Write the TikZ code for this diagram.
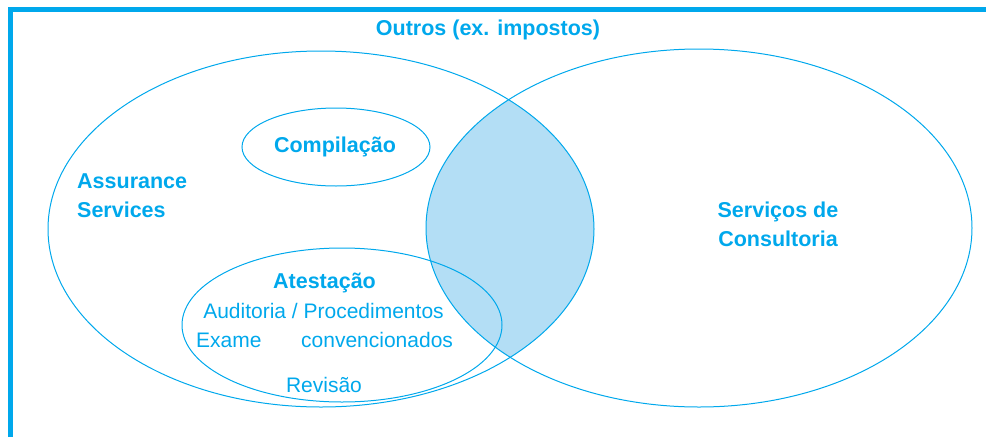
\documentclass[tikz,border=0pt]{standalone}
\usepackage{fontspec}
\setmainfont{Liberation Sans}
\usetikzlibrary{shapes.geometric}
\definecolor{venn}{HTML}{00A8EC}
\definecolor{lens}{HTML}{B3DEF5}
\begin{document}
\begin{tikzpicture}[x=1pt, y=-1pt, every node/.style={text=venn, inner sep=0pt,
                  font=\fontsize{21}{29}\selectfont},
                  ring/.style={draw=venn, line width=1pt, shape=ellipse},
                  hd/.style={font=\fontsize{21.5}{29}\selectfont\bfseries}]
              \useasboundingbox (0,0) rectangle (986,437);
              % zona comum
              \begin{scope}
                \clip (321,229) ellipse [x radius=273, y radius=178];
                \fill[lens] (699,228) ellipse [x radius=273, y radius=179];
              \end{scope}
              \draw[venn, line width=5pt] (10.5,437) |- (986,9.5);
              \node[ring, minimum width=546, minimum height=356] (assurance) at (321,229) {};
              \node[ring, minimum width=546, minimum height=358] (consultoria) at (699,228) {};
              \node[ring, minimum width=188, minimum height=78] (compilacao) at (336,147) {};
              \node[ring, minimum width=320, minimum height=154] (atestacao) at (342,325) {};
              % textos
              \node[hd, anchor=base] (outros) at (488,35.5) {Outros (ex. impostos)};
              \node[hd, anchor=base] (tcomp) at (335,152) {Compilação};
              \node[hd, align=left, anchor=west] (tassur) at (77,196) {Assurance\\Services};
              \node[hd, align=center] (tcons) at (778,224) {Serviços de\\Consultoria};
              \node[hd, anchor=base] (tatest) at (324.5,288) {Atestação};
              \node[anchor=base] (audit) at (323.5,318) {Auditoria / Procedimentos};
              \node[anchor=base west] (exame) at (196,347) {Exame};
              \node[anchor=base west] (conv) at (301,347) {convencionados};
              \node[anchor=base] (revisao) at (324,392) {Revisão};
          \end{tikzpicture}
\end{document}
